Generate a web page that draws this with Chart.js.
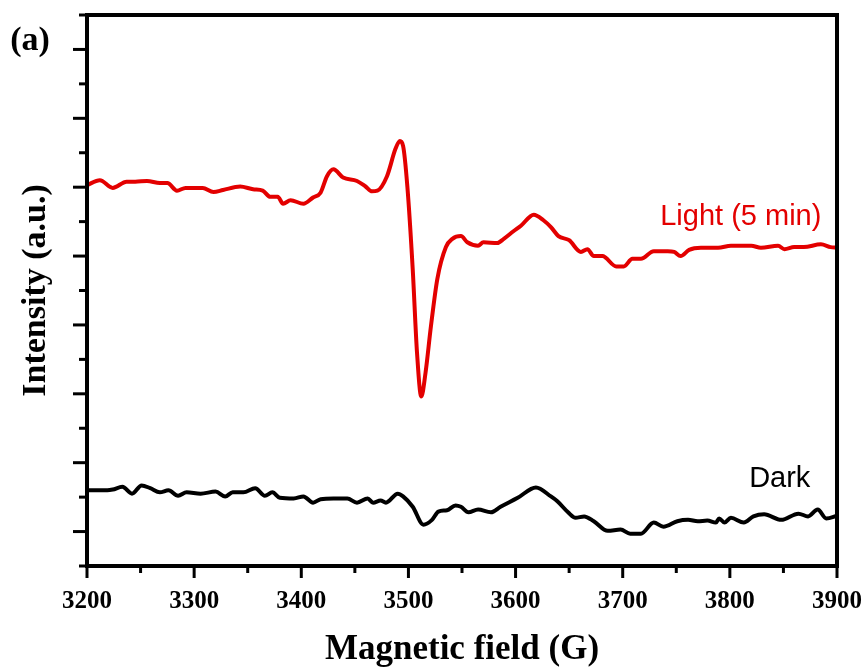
<!DOCTYPE html>
<html>
<head>
<meta charset="utf-8">
<script src="https://cdn.jsdelivr.net/npm/chart.js@4"></script>
<style>
  html, body { margin: 0; padding: 0; background: #fff; }
  canvas { display: block; }
</style>
</head>
<body>
<canvas id="eprChart" width="866" height="669"></canvas>
<script>
// field values (G) and intensities
const lightField = [3200,3212,3224,3237,3245,3256,3268,3275,3284,3292,3308,3318,3327,3343,3355,3364,3371,3378,3383,3390,3402,3411,3418,3424,3430,3439,3452,3460,3466,3471,3480,3488,3492,3495,3499,3504,3508,3512,3516,3521,3527,3535,3541,3549,3555,3565,3570,3583,3589,3598,3605,3617,3626,3633,3640,3650,3661,3667,3673,3681,3694,3701,3709,3717,3729,3742,3748,3754,3762,3773,3789,3801,3820,3829,3845,3851,3860,3869,3885,3894,3900];
const lightIntensity = [5.03,5.10,4.99,5.08,5.08,5.09,5.06,5.06,4.95,4.99,4.99,4.93,4.96,5.01,4.97,4.95,4.86,4.86,4.76,4.81,4.76,4.85,4.92,5.16,5.26,5.14,5.09,5.01,4.94,4.95,5.16,5.56,5.67,5.60,5.01,3.81,2.60,1.96,2.31,2.98,3.67,4.13,4.25,4.29,4.20,4.15,4.20,4.19,4.25,4.36,4.44,4.60,4.52,4.42,4.29,4.23,4.06,4.10,4.00,4.00,3.85,3.85,3.96,3.96,4.07,4.07,4.06,4.00,4.09,4.12,4.12,4.15,4.15,4.12,4.15,4.10,4.13,4.13,4.17,4.13,4.12];

const darkField = [3200,3212,3219,3224,3233,3242,3251,3259,3268,3276,3285,3293,3306,3320,3329,3336,3346,3357,3366,3373,3380,3393,3402,3411,3418,3430,3443,3452,3462,3467,3474,3479,3490,3495,3504,3514,3522,3528,3536,3544,3549,3556,3565,3577,3586,3602,3619,3633,3639,3649,3656,3664,3673,3686,3698,3707,3717,3729,3738,3751,3761,3770,3779,3787,3790,3795,3801,3813,3822,3832,3848,3864,3873,3882,3890,3900];
const darkIntensity = [0.60,0.60,0.60,0.61,0.65,0.55,0.67,0.63,0.57,0.60,0.52,0.57,0.55,0.58,0.51,0.57,0.57,0.63,0.52,0.57,0.49,0.48,0.51,0.42,0.47,0.48,0.48,0.42,0.48,0.42,0.45,0.42,0.55,0.51,0.36,0.10,0.17,0.29,0.31,0.38,0.36,0.28,0.32,0.28,0.36,0.49,0.64,0.51,0.44,0.28,0.20,0.22,0.15,0.01,0.03,-0.03,-0.03,0.13,0.07,0.15,0.17,0.15,0.16,0.13,0.19,0.13,0.20,0.13,0.22,0.25,0.17,0.26,0.22,0.32,0.19,0.23];

const seriesNames = ['Light (5 min)', 'Dark'];
const seriesColors = ['#e30000', '#000000'];
// where the curve names sit, in data units (field, intensity at baseline)
const nameAnchors = [[3735, 4.45], [3818, 0.65]];

const toPoints = (xs, ys) => xs.map((x, i) => ({ x: x, y: ys[i] }));

// frame, tick marks (long major / short minor) and curve names
const framePlugin = {
    id: 'frame',
    afterDatasetsDraw(chart) {
        const ctx = chart.ctx;
        const area = chart.chartArea;
        const xs = chart.scales.x, ys = chart.scales.y;
        ctx.save();
        ctx.strokeStyle = '#000';
        ctx.lineWidth = 3;
        ctx.lineCap = 'butt';
        xs.ticks.forEach(t => {
            const px = xs.getPixelForValue(t.value);
            const len = t.value % 100 === 0 ? 12 : 7;
            ctx.beginPath();
            ctx.moveTo(px, area.bottom);
            ctx.lineTo(px, area.bottom + len);
            ctx.stroke();
        });
        ys.ticks.forEach(t => {
            const py = ys.getPixelForValue(t.value);
            const len = Number.isInteger(t.value) ? 14 : 8;
            ctx.beginPath();
            ctx.moveTo(area.left, py);
            ctx.lineTo(area.left - len, py);
            ctx.stroke();
        });
        ctx.lineWidth = 4;
        ctx.strokeRect(area.left, area.top, area.right - area.left, area.bottom - area.top);

        // curve names
        ctx.font = '29px "Liberation Sans", Arial, sans-serif';
        ctx.textAlign = 'left';
        ctx.textBaseline = 'alphabetic';
        seriesNames.forEach((name, i) => {
            ctx.fillStyle = seriesColors[i];
            ctx.fillText(name, xs.getPixelForValue(nameAnchors[i][0]), ys.getPixelForValue(nameAnchors[i][1]));
        });

        // panel letter
        ctx.fillStyle = '#000';
        ctx.font = 'bold 34px "Liberation Serif", "Times New Roman", serif';
        ctx.textAlign = 'center';
        ctx.textBaseline = 'middle';
        ctx.fillText('(a)', 30, 41);
        ctx.restore();
    }
};

const ctx = document.getElementById('eprChart').getContext('2d');
const eprChart = new Chart(ctx, {
    type: 'line',
    data: {
        datasets: [{
            label: seriesNames[0],
            data: toPoints(lightField, lightIntensity),
            borderColor: seriesColors[0],
            borderWidth: 4,
            pointRadius: 0,
            cubicInterpolationMode: 'monotone'
        }, {
            label: seriesNames[1],
            data: toPoints(darkField, darkIntensity),
            borderColor: seriesColors[1],
            borderWidth: 4,
            pointRadius: 0,
            cubicInterpolationMode: 'monotone'
        }]
    },
    options: {
        responsive: false,
        animation: false,
        devicePixelRatio: 1,
        layout: { padding: { top: 15, right: 29, left: 0, bottom: 0 } },
        plugins: {
            legend: { display: false },
            tooltip: { enabled: false }
        },
        scales: {
            x: {
                type: 'linear',
                min: 3200,
                max: 3900,
                afterFit: scale => {
                    scale.height = 103;
                    scale.paddingLeft = 0;
                    scale.paddingRight = 0;
                },
                border: { display: false },
                grid: { display: false, drawTicks: false },
                ticks: {
                    stepSize: 50,
                    padding: 21,
                    maxRotation: 0,
                    autoSkip: false,
                    color: '#000',
                    font: { family: '"Liberation Serif", "Times New Roman", serif', size: 25, weight: 'bold' },
                    callback: v => (v % 100 === 0 ? String(v) : '')
                },
                title: {
                    display: true,
                    text: 'Magnetic field (G)',
                    color: '#000',
                    padding: { top: 0, bottom: -2 },
                    font: { family: '"Liberation Serif", "Times New Roman", serif', size: 35, weight: 'bold' }
                }
            },
            y: {
                type: 'linear',
                min: -0.5,
                max: 7.5,
                afterFit: scale => {
                    scale.width = 87;
                    scale.paddingTop = 0;
                    scale.paddingBottom = 0;
                },
                border: { display: false },
                grid: { display: false, drawTicks: false },
                ticks: { stepSize: 0.5, display: false },
                title: {
                    display: true,
                    text: 'Intensity (a.u.)',
                    color: '#000',
                    padding: { top: 16, bottom: 0 },
                    font: { family: '"Liberation Serif", "Times New Roman", serif', size: 34, weight: 'bold' }
                }
            }
        }
    },
    plugins: [framePlugin]
});
</script>
</body>
</html>
